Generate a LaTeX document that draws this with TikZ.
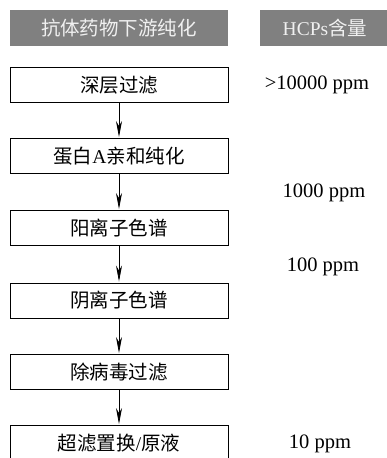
\documentclass[tikz,border=0pt]{standalone}
\usepackage{fontspec}
\setmainfont{Liberation Serif}
\newfontfamily\cjk{Noto Sans CJK SC}
\usetikzlibrary{arrows.meta}
\begin{document}
\begin{tikzpicture}[x=1pt,y=-1pt,
  hdr/.style={fill=black!50,draw=none,text=black!6,inner sep=0pt,minimum height=36pt,font=\fontsize{19.5}{22}\selectfont},
  stepbox/.style={draw=black,line width=0.9pt,minimum width=218pt,minimum height=35pt,inner sep=0pt,font=\fontsize{19.5}{22}\selectfont},
  val/.style={font=\fontsize{20.5}{24}\selectfont,inner sep=0pt},
  flow/.style={line width=0.8pt,shorten >=1pt,-{Stealth[length=16pt,width=6pt,inset=5pt]}}]
\useasboundingbox (0,0) rectangle (386,458);
\node[hdr,minimum width=218pt] (h1) at (119,28) {\cjk 抗体药物下游纯化};
\node[hdr,minimum width=130pt] (h2) at (325,28) {HCPs{\cjk 含量}};
\node[stepbox] (b1) at (119,85) {\cjk 深层过滤};
\node[stepbox] (b2) at (119,156) {{\cjk 蛋白}A{\cjk 亲和纯化}};
\node[stepbox] (b3) at (119,228) {\cjk 阳离子色谱};
\node[stepbox] (b4) at (119,300.5) {\cjk 阴离子色谱};
\node[stepbox] (b5) at (119,372) {\cjk 除病毒过滤};
\node[stepbox,minimum height=36pt] (b6) at (119,443.5) {{\cjk 超滤置换}/{\cjk 原液}};
\draw[flow] (b1) -- (b2);
\draw[flow] (b2) -- (b3);
\draw[flow] (b3) -- (b4);
\draw[flow] (b4) -- (b5);
\draw[flow] (b5) -- (b6);
\node[val] (v1) at (317,85) {>10000 ppm};
\node[val] (v2) at (324,193) {1000 ppm};
\node[val] (v3) at (323,267) {100 ppm};
\node[val] (v4) at (320,444) {10 ppm};
\end{tikzpicture}
\end{document}
